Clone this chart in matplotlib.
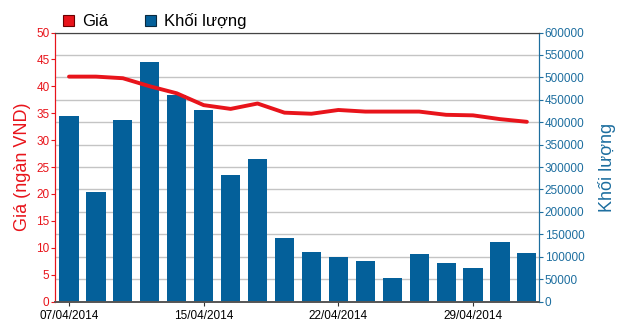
import matplotlib
matplotlib.use('Agg')
import matplotlib.pyplot as plt
from matplotlib.patches import Patch
import numpy as np

plt.rcParams['font.family'] = ['Liberation Sans', 'DejaVu Sans']

# trading days, only some of them get a label
dates = ['07/04/2014', '08/04/2014', '10/04/2014', '11/04/2014', '14/04/2014',
         '15/04/2014', '16/04/2014', '17/04/2014', '18/04/2014', '21/04/2014',
         '22/04/2014', '23/04/2014', '24/04/2014', '25/04/2014', '28/04/2014',
         '29/04/2014', '05/05/2014', '06/05/2014']
tick_dates = ['07/04/2014', '15/04/2014', '22/04/2014', '29/04/2014']
price = [41.8, 41.8, 41.5, 40.0, 38.7, 36.5, 35.8, 36.8, 35.1, 34.9,
         35.6, 35.3, 35.3, 35.3, 34.7, 34.6, 33.9, 33.4]
volume = [413500, 243400, 403900, 533200, 461000, 427500, 281300, 317000, 142200,
          110300, 98500, 89600, 53100, 105900, 86500, 74700, 132600, 108100]

red = '#e8141b'
blue = '#04609a'
axblue = '#1d6e9f'

fig = plt.figure(figsize=(6.2, 3.23), dpi=100)
W, H = 620, 323
ax = fig.add_axes([55/W, 1-301.5/H, (539-55)/W, (301.5-32.5)/H])
ax2 = ax.twinx()

x = np.arange(len(dates))
ax2.bar(x, volume, width=0.71, color=blue, zorder=2)
ax.plot(x, price, color=red, lw=2.8, solid_capstyle='round', zorder=5)

# price axis in front so the line sits over the bars
ax.set_zorder(ax2.get_zorder() + 1)
ax.patch.set_visible(False)

ax.set_xlim(-0.52, len(dates) - 0.55)
ax.set_ylim(0, 50)
ax2.set_ylim(0, 600000)
ax.set_yticks(np.arange(0, 51, 5))
ax2.set_yticks(np.arange(0, 600001, 50000))
ax2.set_yticklabels([str(v) for v in range(0, 600001, 50000)])
ax.set_xticks([dates.index(d) for d in tick_dates])
ax.set_xticklabels(tick_dates)

ax2.yaxis.grid(True, color='#c4c4c4', lw=1)
ax2.set_axisbelow(True)

ax.tick_params(axis='y', colors=red, labelsize=8.5, length=3, pad=1)
ax.tick_params(axis='x', colors='#333333', labelsize=8.5, length=3, pad=3)
ax.tick_params(axis='x', labelcolor='black')
ax2.tick_params(axis='y', colors=axblue, labelsize=8.5, length=3, pad=1)

for a in (ax, ax2):
    a.spines['left'].set_color(red)
    a.spines['right'].set_color(axblue)
    a.spines['top'].set_color('#444444')
    a.spines['bottom'].set_color('#555555')
    a.spines['bottom'].set_linewidth(1.2)

ax.set_ylabel('Giá (ngàn VND)', color=red, fontsize=13, labelpad=4)
ax2.set_ylabel('Khối lượng', color=axblue, fontsize=13, labelpad=10)

handles = [Patch(facecolor=red, edgecolor='#6a0000', lw=0.8),
           Patch(facecolor=blue, edgecolor='#0a2a40', lw=0.8)]
fig.legend(handles, ['Giá', 'Khối lượng'], loc='lower left',
           bbox_to_anchor=(61/W, 1-31/H), ncol=2, frameon=False,
           fontsize=12, handlelength=0.7, handleheight=0.7,
           handletextpad=0.45, columnspacing=2.2, borderaxespad=0,
           borderpad=0.1)

fig.savefig('out.png', dpi=100)
